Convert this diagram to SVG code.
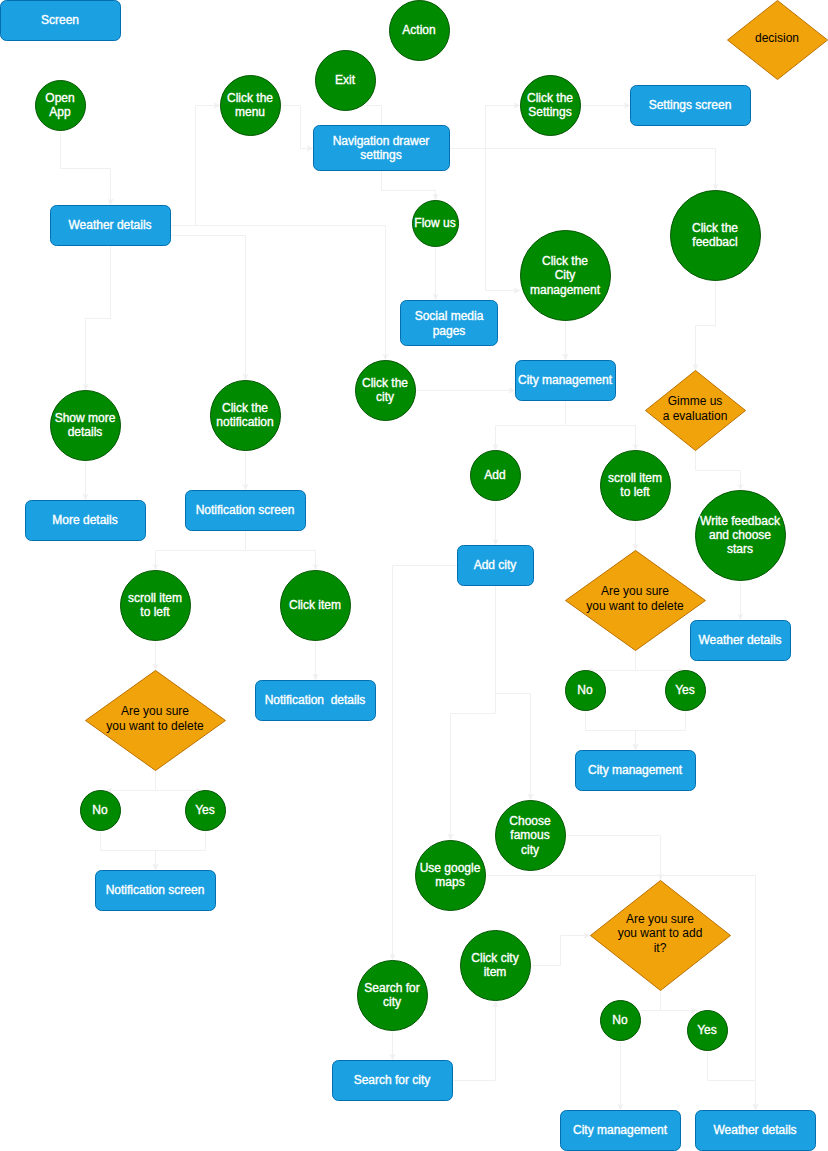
<svg xmlns="http://www.w3.org/2000/svg" width="828" height="1151" viewBox="0 0 828 1151">
  <defs>
    <marker id="arr" viewBox="0 0 10 10" refX="10" refY="5" markerWidth="7" markerHeight="7" markerUnits="userSpaceOnUse" orient="auto">
      <path d="M0,0.5 L10,5 L0,9.5 L2.5,5 Z" fill="#f0f0f0"/>
    </marker>
    <style>
      .edge { fill: none; stroke: #f0f0f0; stroke-width: 1; }
      .arrow { marker-end: url(#arr); }
      .screen { fill: #1ba1e2; stroke: #006eaf; stroke-width: 1; }
      .action { fill: #008a00; stroke: #005700; stroke-width: 1; }
      .decision { fill: #f0a30a; stroke: #bd7000; stroke-width: 1; }
      text { font-family: "Liberation Sans", Arial, Helvetica, sans-serif; font-size: 12px; text-anchor: middle; }
      .lw { fill: #ffffff; stroke: #ffffff; stroke-width: 0.35px; }
      .ld { fill: #000000; }
    </style>
  </defs>
  <rect width="828" height="1151" fill="#ffffff"/>

  <!-- connectors -->
  <g id="connectors" transform="translate(0.5,0.5)">
    <path class="edge arrow" d="M60,130 V168 H110 V205"/>
    <path class="edge arrow" d="M170,225 H195 V105 H220"/>
    <path class="edge arrow" d="M170,225 H385 V360"/>
    <path class="edge arrow" d="M170,235 H245 V380"/>
    <path class="edge arrow" d="M110,245 V318 H85 V390"/>
    <path class="edge arrow" d="M280,105 H300 V148 H313"/>
    <path class="edge" d="M381,125 V105 H365"/>
    <path class="edge arrow" d="M381,170 V190 H435 V200"/>
    <path class="edge arrow" d="M450,148 H485 V105 H520"/>
    <path class="edge arrow" d="M450,148 H485 V290 H520"/>
    <path class="edge arrow" d="M450,148 H715 V190"/>
    <path class="edge arrow" d="M580,105 H630"/>
    <path class="edge arrow" d="M435,246 V300"/>
    <path class="edge arrow" d="M565,320 V360"/>
    <path class="edge arrow" d="M415,390 H515"/>
    <path class="edge arrow" d="M715,280 V325 H695 V370"/>
    <path class="edge arrow" d="M565,400 V425 H495 V450"/>
    <path class="edge arrow" d="M565,400 V425 H635 V450"/>
    <path class="edge arrow" d="M695,450 V470 H740 V490"/>
    <path class="edge arrow" d="M495,500 V545"/>
    <path class="edge arrow" d="M635,520 V550"/>
    <path class="edge arrow" d="M740,580 V620"/>
    <path class="edge arrow" d="M635,650 V670 H586"/>
    <path class="edge arrow" d="M635,650 V670 H684"/>
    <path class="edge arrow" d="M585,710 V730 H635 V750"/>
    <path class="edge arrow" d="M685,710 V730 H635 V750"/>
    <path class="edge arrow" d="M245,450 V490"/>
    <path class="edge arrow" d="M85,460 V500"/>
    <path class="edge arrow" d="M245,530 V550 H155 V570"/>
    <path class="edge arrow" d="M245,530 V550 H315 V570"/>
    <path class="edge arrow" d="M155,640 V670"/>
    <path class="edge arrow" d="M315,640 V680"/>
    <path class="edge arrow" d="M155,770 V790 H105"/>
    <path class="edge arrow" d="M155,770 V790 H202"/>
    <path class="edge arrow" d="M100,830 V850 H155 V870"/>
    <path class="edge arrow" d="M205,830 V850 H155 V870"/>
    <path class="edge arrow" d="M458,565 H392 V960"/>
    <path class="edge arrow" d="M495,585 V693 H530 V800"/>
    <path class="edge arrow" d="M495,585 V713 H450 V840"/>
    <path class="edge arrow" d="M565,835 H660 V880"/>
    <path class="edge arrow" d="M485,875 H755 V1110"/>
    <path class="edge arrow" d="M530,965 H560 V935 H590"/>
    <path class="edge arrow" d="M392,1030 V1060"/>
    <path class="edge arrow" d="M452,1080 H495 V1000"/>
    <path class="edge" d="M660,990 V1010 H640"/>
    <path class="edge arrow" d="M660,1010 H697"/>
    <path class="edge arrow" d="M620,1040 V1110"/>
    <path class="edge arrow" d="M707,1050 V1080 H755 V1110"/>
  </g>

  <!-- legend -->
  <g id="legend-screen">
    <rect class="screen" x="0.5" y="0.5" width="120" height="40" rx="6"/>
    <text class="lw" x="60" y="24">Screen</text>
  </g>
  <g id="legend-action">
    <circle class="action" cx="419.5" cy="30.5" r="30"/>
    <text class="lw" x="419" y="34">Action</text>
  </g>
  <g id="legend-decision">
    <polygon class="decision" points="777.5,0.5 827.5,40 777.5,79.5 727.5,40"/>
    <text class="ld" x="777" y="42">decision</text>
  </g>

  <!-- top area -->
  <g id="open-app">
    <circle class="action" cx="60.5" cy="105.5" r="25"/>
    <text class="lw" x="60" y="102">Open</text>
    <text class="lw" x="60" y="116">App</text>
  </g>
  <g id="click-menu">
    <circle class="action" cx="250.5" cy="105.5" r="30"/>
    <text class="lw" x="250" y="102">Click the</text>
    <text class="lw" x="250" y="116">menu</text>
  </g>
  <g id="exit">
    <circle class="action" cx="345.5" cy="80.5" r="30"/>
    <text class="lw" x="345" y="84">Exit</text>
  </g>
  <g id="nav-drawer">
    <rect class="screen" x="313.5" y="125.5" width="136" height="45" rx="6"/>
    <text class="lw" x="381" y="145">Navigation drawer</text>
    <text class="lw" x="381" y="159">settings</text>
  </g>
  <g id="weather-details-main">
    <rect class="screen" x="50.5" y="205.5" width="120" height="40" rx="6"/>
    <text class="lw" x="110" y="229">Weather details</text>
  </g>
  <g id="flow-us">
    <circle class="action" cx="435.5" cy="223.5" r="23"/>
    <text class="lw" x="435" y="227">Flow us</text>
  </g>
  <g id="click-settings">
    <circle class="action" cx="550.5" cy="105.5" r="30"/>
    <text class="lw" x="550" y="102">Click the</text>
    <text class="lw" x="550" y="116">Settings</text>
  </g>
  <g id="settings-screen">
    <rect class="screen" x="630.5" y="85.5" width="120" height="40" rx="6"/>
    <text class="lw" x="690" y="109">Settings screen</text>
  </g>
  <g id="click-feedback">
    <circle class="action" cx="715.5" cy="235.5" r="45"/>
    <text class="lw" x="715" y="232">Click the</text>
    <text class="lw" x="715" y="246">feedbacl</text>
  </g>
  <g id="click-city-management">
    <circle class="action" cx="565.5" cy="275.5" r="45"/>
    <text class="lw" x="565" y="265">Click the</text>
    <text class="lw" x="565" y="279">City</text>
    <text class="lw" x="565" y="294">management</text>
  </g>
  <g id="social-media">
    <rect class="screen" x="400.5" y="300.5" width="97" height="45" rx="6"/>
    <text class="lw" x="449" y="320">Social media</text>
    <text class="lw" x="449" y="335">pages</text>
  </g>
  <g id="click-city">
    <circle class="action" cx="385.5" cy="390.5" r="30"/>
    <text class="lw" x="385" y="387">Click the</text>
    <text class="lw" x="385" y="401">city</text>
  </g>
  <g id="city-management-main">
    <rect class="screen" x="515.5" y="360.5" width="100" height="40" rx="6"/>
    <text class="lw" x="565" y="384">City management</text>
  </g>
  <g id="evaluation">
    <polygon class="decision" points="695.5,370.5 745.5,410.5 695.5,450.5 645.5,410.5"/>
    <text class="ld" x="695" y="405">Gimme us</text>
    <text class="ld" x="695" y="420">a evaluation</text>
  </g>

  <!-- details / notifications -->
  <g id="show-more-details">
    <circle class="action" cx="85.5" cy="425.5" r="35"/>
    <text class="lw" x="85" y="422">Show more</text>
    <text class="lw" x="85" y="436">details</text>
  </g>
  <g id="click-notification">
    <circle class="action" cx="245.5" cy="415.5" r="35"/>
    <text class="lw" x="245" y="412">Click the</text>
    <text class="lw" x="245" y="426">notification</text>
  </g>
  <g id="more-details">
    <rect class="screen" x="25.5" y="500.5" width="120" height="40" rx="6"/>
    <text class="lw" x="85" y="524">More details</text>
  </g>
  <g id="notification-screen">
    <rect class="screen" x="185.5" y="490.5" width="120" height="40" rx="6"/>
    <text class="lw" x="245" y="514">Notification screen</text>
  </g>
  <g id="notif-scroll">
    <circle class="action" cx="155.5" cy="605.5" r="35"/>
    <text class="lw" x="155" y="602">scroll item</text>
    <text class="lw" x="155" y="616">to left</text>
  </g>
  <g id="click-item">
    <circle class="action" cx="315.5" cy="605.5" r="35"/>
    <text class="lw" x="315" y="609">Click item</text>
  </g>
  <g id="notif-delete">
    <polygon class="decision" points="155.5,670.5 225.5,720.5 155.5,770.5 85.5,720.5"/>
    <text class="ld" x="155" y="715">Are you sure</text>
    <text class="ld" x="155" y="730">you want to delete</text>
  </g>
  <g id="notification-details">
    <rect class="screen" x="255.5" y="680.5" width="120" height="40" rx="6"/>
    <text class="lw" x="315" y="704" xml:space="preserve">Notification  details</text>
  </g>
  <g id="notif-no">
    <circle class="action" cx="100.5" cy="810.5" r="20"/>
    <text class="lw" x="100" y="814">No</text>
  </g>
  <g id="notif-yes">
    <circle class="action" cx="205.5" cy="810.5" r="20"/>
    <text class="lw" x="205" y="814">Yes</text>
  </g>
  <g id="notification-screen-2">
    <rect class="screen" x="95.5" y="870.5" width="120" height="40" rx="6"/>
    <text class="lw" x="155" y="894">Notification screen</text>
  </g>

  <!-- city management branch -->
  <g id="add">
    <circle class="action" cx="495.5" cy="475.5" r="25"/>
    <text class="lw" x="495" y="479">Add</text>
  </g>
  <g id="city-scroll">
    <circle class="action" cx="635.5" cy="485.5" r="35"/>
    <text class="lw" x="635" y="482">scroll item</text>
    <text class="lw" x="635" y="496">to left</text>
  </g>
  <g id="write-feedback">
    <circle class="action" cx="740.5" cy="535.5" r="45"/>
    <text class="lw" x="740" y="525">Write feedback</text>
    <text class="lw" x="740" y="539">and choose</text>
    <text class="lw" x="740" y="553">stars</text>
  </g>
  <g id="add-city">
    <rect class="screen" x="457.5" y="545.5" width="76" height="40" rx="6"/>
    <text class="lw" x="495" y="569">Add city</text>
  </g>
  <g id="city-delete">
    <polygon class="decision" points="635.5,550.5 705.5,600.5 635.5,650.5 565.5,600.5"/>
    <text class="ld" x="635" y="595">Are you sure</text>
    <text class="ld" x="635" y="610">you want to delete</text>
  </g>
  <g id="weather-details-feedback">
    <rect class="screen" x="690.5" y="620.5" width="100" height="40" rx="6"/>
    <text class="lw" x="740" y="644">Weather details</text>
  </g>
  <g id="city-no">
    <circle class="action" cx="585.5" cy="690.5" r="20"/>
    <text class="lw" x="585" y="694">No</text>
  </g>
  <g id="city-yes">
    <circle class="action" cx="685.5" cy="690.5" r="20"/>
    <text class="lw" x="685" y="694">Yes</text>
  </g>
  <g id="city-management-2">
    <rect class="screen" x="575.5" y="750.5" width="120" height="40" rx="6"/>
    <text class="lw" x="635" y="774">City management</text>
  </g>

  <!-- add city branch -->
  <g id="choose-famous">
    <circle class="action" cx="530.5" cy="835.5" r="35"/>
    <text class="lw" x="530" y="825">Choose</text>
    <text class="lw" x="530" y="839">famous</text>
    <text class="lw" x="530" y="854">city</text>
  </g>
  <g id="google-maps">
    <circle class="action" cx="450.5" cy="875.5" r="35"/>
    <text class="lw" x="450" y="872">Use google</text>
    <text class="lw" x="450" y="886">maps</text>
  </g>
  <g id="add-confirm">
    <polygon class="decision" points="660.5,880.5 730.5,935.5 660.5,990.5 590.5,935.5"/>
    <text class="ld" x="660" y="923">Are you sure</text>
    <text class="ld" x="660" y="937">you want to add</text>
    <text class="ld" x="660" y="952">it?</text>
  </g>
  <g id="click-city-item">
    <circle class="action" cx="495.5" cy="965.5" r="35"/>
    <text class="lw" x="495" y="962">Click city</text>
    <text class="lw" x="495" y="976">item</text>
  </g>
  <g id="search-city-action">
    <circle class="action" cx="392.5" cy="995.5" r="35"/>
    <text class="lw" x="392" y="992">Search for</text>
    <text class="lw" x="392" y="1006">city</text>
  </g>
  <g id="add-no">
    <circle class="action" cx="620.5" cy="1020.5" r="20"/>
    <text class="lw" x="620" y="1024">No</text>
  </g>
  <g id="add-yes">
    <circle class="action" cx="707.5" cy="1030.5" r="20"/>
    <text class="lw" x="707" y="1034">Yes</text>
  </g>
  <g id="search-city-screen">
    <rect class="screen" x="332.5" y="1060.5" width="120" height="40" rx="6"/>
    <text class="lw" x="392" y="1084">Search for city</text>
  </g>
  <g id="city-management-3">
    <rect class="screen" x="560.5" y="1110.5" width="120" height="40" rx="6"/>
    <text class="lw" x="620" y="1134">City management</text>
  </g>
  <g id="weather-details-add">
    <rect class="screen" x="695.5" y="1110.5" width="120" height="40" rx="6"/>
    <text class="lw" x="755" y="1134">Weather details</text>
  </g>
</svg>
